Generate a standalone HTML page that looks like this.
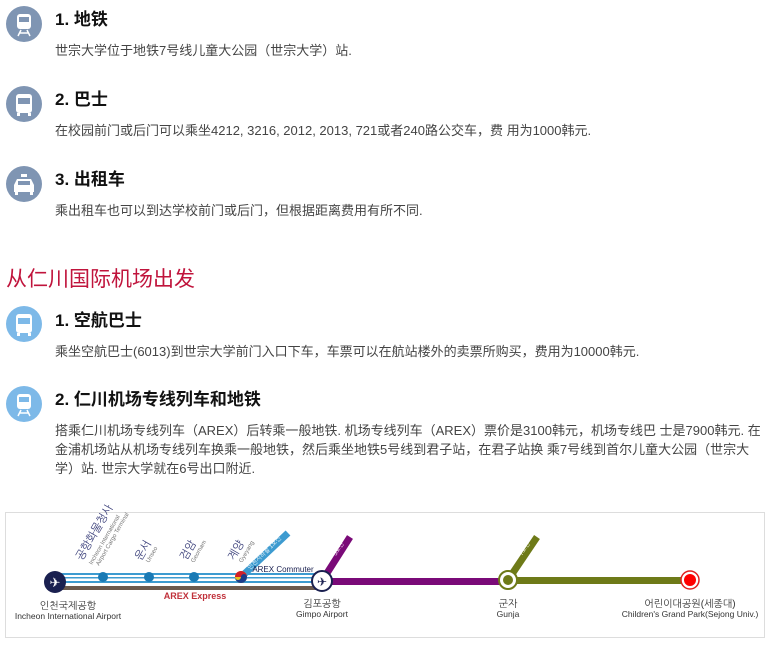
<!DOCTYPE html>
<html><head><meta charset="utf-8"><style>
body{margin:0;width:772px;height:645px;background:#fff;position:relative;overflow:hidden;font-family:"Liberation Sans","Noto Sans CJK SC",sans-serif}
.ic{position:absolute;left:6px;width:36px;height:36px;border-radius:50%;background:#7f95b3}
.ic.b{background:#7db9e8}
.t{position:absolute;left:55px;font-size:17px;font-weight:bold;color:#111;white-space:nowrap;line-height:20px}
.d{position:absolute;left:55px;font-size:13px;color:#444;white-space:nowrap;line-height:19px}
.h{position:absolute;left:6px;top:268px;font-size:21px;color:#c0143c;line-height:24px;white-space:nowrap}
</style></head><body>
<div class="ic" style="top:6px"><svg width="36" height="36"><rect x="11" y="8" width="14" height="15" rx="3" fill="#fff"/><rect x="13" y="11" width="10" height="5" fill="#7f95b3"/><path d="M12 30 L15 24 M24 30 L21 24 M13 27 H23" stroke="#fff" stroke-width="1.5"/></svg></div>
<div class="t" style="top:10px">1. 地铁</div>
<div class="d" style="top:41px">世宗大学位于地铁7号线儿童大公园（世宗大学）站.</div>
<div class="ic" style="top:86px"><svg width="36" height="36"><rect x="10" y="8" width="16" height="19" rx="3" fill="#fff"/><rect x="12" y="12" width="12" height="6" fill="#7f95b3"/><rect x="11" y="27" width="3" height="3" fill="#fff"/><rect x="22" y="27" width="3" height="3" fill="#fff"/></svg></div>
<div class="t" style="top:90px">2. 巴士</div>
<div class="d" style="top:121px">在校园前门或后门可以乘坐4212, 3216, 2012, 2013, 721或者240路公交车，费 用为1000韩元.</div>
<div class="ic" style="top:166px"><svg width="36" height="36"><rect x="15" y="8" width="6" height="3" fill="#fff"/><path d="M11 13 H25 L28 19 V26 H8 V19Z" fill="#fff"/><rect x="12" y="15" width="12" height="4" fill="#7f95b3"/><rect x="9" y="26" width="3" height="3" fill="#fff"/><rect x="24" y="26" width="3" height="3" fill="#fff"/></svg></div>
<div class="t" style="top:170px">3. 出租车</div>
<div class="d" style="top:201px">乘出租车也可以到达学校前门或后门，但根据距离费用有所不同.</div>
<div class="h">从仁川国际机场出发</div>
<div class="ic b" style="top:306px"><svg width="36" height="36"><rect x="10" y="8" width="16" height="19" rx="3" fill="#fff"/><rect x="12" y="12" width="12" height="6" fill="#7db9e8"/><rect x="11" y="27" width="3" height="3" fill="#fff"/><rect x="22" y="27" width="3" height="3" fill="#fff"/></svg></div>
<div class="t" style="top:311px">1. 空航巴士</div>
<div class="d" style="top:342px">乘坐空航巴士(6013)到世宗大学前门入口下车，车票可以在航站楼外的卖票所购买，费用为10000韩元.</div>
<div class="ic b" style="top:386px"><svg width="36" height="36"><rect x="11" y="8" width="14" height="15" rx="3" fill="#fff"/><rect x="13" y="11" width="10" height="5" fill="#7db9e8"/><path d="M12 30 L15 24 M24 30 L21 24 M13 27 H23" stroke="#fff" stroke-width="1.5"/></svg></div>
<div class="t" style="top:390px">2. 仁川机场专线列车和地铁</div>
<div class="d" style="top:421px">搭乘仁川机场专线列车（AREX）后转乘一般地铁. 机场专线列车（AREX）票价是3100韩元，机场专线巴 士是7900韩元. 在</div>
<div class="d" style="top:440px">金浦机场站从机场专线列车换乘一般地铁，然后乘坐地铁5号线到君子站，在君子站换 乘7号线到首尔儿童大公园（世宗大</div>
<div class="d" style="top:459px">学）站. 世宗大学就在6号出口附近.</div>
<svg style="position:absolute;left:0;top:0" width="772" height="645" font-family="Liberation Sans,NanumGothic,sans-serif">
<rect x="5.5" y="512.5" width="759" height="125" fill="#fff" stroke="#ddd"/>
<rect x="55" y="573" width="267" height="10" fill="#3d9bd0"/>
<rect x="55" y="575" width="267" height="6" fill="#fff"/>
<rect x="55" y="577" width="267" height="1.5" fill="#3d9bd0"/>
<rect x="55" y="586" width="267" height="4" fill="#6b5a4e"/>
<line x1="322" y1="581" x2="350" y2="537" stroke="#7a0a78" stroke-width="7"/>
<rect x="322" y="578" width="186" height="7" fill="#7a0a78"/>
<line x1="508" y1="580" x2="537" y2="537" stroke="#6e7a18" stroke-width="7"/>
<rect x="508" y="577" width="182" height="7" fill="#6e7a18"/>
<line x1="240" y1="578" x2="288" y2="533" stroke="#3d9bd0" stroke-width="7"/>
<circle cx="103" cy="577" r="5" fill="#1a7ab5"/><circle cx="149" cy="577" r="5" fill="#1a7ab5"/><circle cx="194" cy="577" r="5" fill="#1a7ab5"/>
<circle cx="241" cy="577" r="6" fill="#e8c020"/><path d="M235 577 A6 6 0 0 1 247 577Z" fill="#d0202a"/><path d="M235 577 A3 3 0 0 0 241 577 A3 3 0 0 1 247 577 A6 6 0 0 1 235 577Z" fill="#1a3c8c"/>
<circle cx="55" cy="582" r="11" fill="#1a2050"/><text x="55" y="587" font-size="13" fill="#fff" text-anchor="middle">✈</text>
<circle cx="322" cy="581" r="10" fill="#fff" stroke="#1a2050" stroke-width="2"/><text x="322" y="586" font-size="12" fill="#1a2050" text-anchor="middle">✈</text>
<circle cx="508" cy="580" r="9" fill="#fff" stroke="#6e7a18" stroke-width="2"/><circle cx="508" cy="580" r="5" fill="#6e7a18"/>
<circle cx="690" cy="580" r="9" fill="#fff" stroke="#e02020" stroke-width="1.5"/><circle cx="690" cy="580" r="6" fill="#f00"/>
<text x="195" y="599" font-size="9" fill="#c0303a" text-anchor="middle" font-weight="bold">AREX Express</text>
<text x="283" y="572" font-size="8" fill="#1a2050" text-anchor="middle">AREX Commuter</text>
<g font-size="10" fill="#333" text-anchor="middle">
<text x="68" y="609">인천국제공항</text><text x="68" y="619" font-size="8.5">Incheon International Airport</text>
<text x="322" y="607">김포공항</text><text x="322" y="617" font-size="8.5">Gimpo Airport</text>
<text x="508" y="607">군자</text><text x="508" y="617" font-size="8.5">Gunja</text>
<text x="690" y="607">어린이대공원(세종대)</text><text x="690" y="617" font-size="8.5">Children's Grand Park(Sejong Univ.)</text>
</g>
<g fill="#3a3f7a" font-size="11">
<text transform="translate(82,561) rotate(-60)">공항화물청사</text>
<text transform="translate(92,565) rotate(-60)" font-size="6" fill="#777">Incheon International</text>
<text transform="translate(99,566) rotate(-60)" font-size="6" fill="#777">Airport Cargo Terminal</text>
<text transform="translate(141,561) rotate(-60)">운서</text>
<text transform="translate(149,563) rotate(-60)" font-size="6" fill="#777">Unseo</text>
<text transform="translate(186,561) rotate(-60)">검암</text>
<text transform="translate(194,563) rotate(-60)" font-size="6" fill="#777">Geomam</text>
<text transform="translate(234,561) rotate(-60)">계양</text>
<text transform="translate(242,563) rotate(-60)" font-size="6" fill="#777">Gyeyang</text>
<text transform="translate(250,570) rotate(-45)" font-size="6" fill="#fff">인천지하철 1호선</text>
<text transform="translate(336,556) rotate(-57)" font-size="6" fill="#fff">5호선</text>
<text transform="translate(522,556) rotate(-57)" font-size="6" fill="#fff">7호선</text>
</g>
</svg>
</body></html>
